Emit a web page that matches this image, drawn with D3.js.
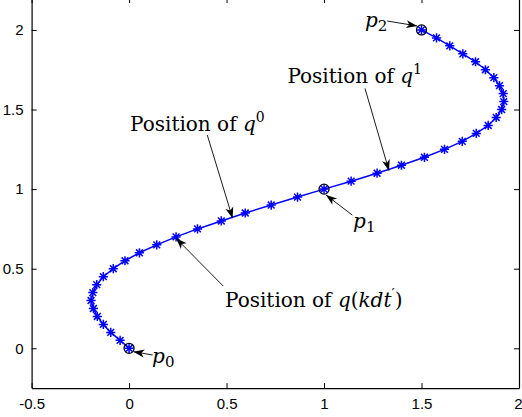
<!DOCTYPE html>
<html>
<head>
<meta charset="utf-8">
<script src="https://cdn.jsdelivr.net/npm/d3@7"></script>
<style>
  body { margin: 0; background: #fff; }
</style>
</head>
<body>
<div id="chart"></div>
<script>
// trajectory samples q(k dt')
const pathX = [0, -0.046, -0.094, -0.132, -0.163, -0.183, -0.195, -0.186, -0.166, -0.132,
  -0.081, -0.021, 0.053, 0.142, 0.241, 0.351, 0.473, 0.596, 0.729, 0.864,
  1.0, 1.139, 1.272, 1.397, 1.515, 1.618, 1.709, 1.781, 1.842, 1.883,
  1.911, 1.922, 1.919, 1.900, 1.871, 1.828, 1.777, 1.712, 1.645, 1.577, 1.5];
const pathY = [0, 0.05, 0.10, 0.15, 0.20, 0.25, 0.30, 0.35, 0.40, 0.45,
  0.50, 0.55, 0.60, 0.65, 0.70, 0.75, 0.80, 0.85, 0.90, 0.95,
  1.00, 1.05, 1.10, 1.15, 1.20, 1.25, 1.30, 1.35, 1.40, 1.45,
  1.50, 1.55, 1.60, 1.65, 1.70, 1.75, 1.80, 1.85, 1.90, 1.95, 2.00];

// waypoints p0, p1, p2
const ctrlX = [0, 1, 1.5];
const ctrlY = [0, 1, 2];

const xTicks = [-0.5, 0, 0.5, 1, 1.5, 2];
const xTickLabels = ["-0.5", "0", "0.5", "1", "1.5", "2"];
const yTicks = [0, 0.5, 1, 1.5, 2];
const yTickLabels = ["0", "0.5", "1", "1.5", "2"];

// annotation texts (in data units) and arrows
const labelText = ["q0", "q1", "qk", "p2", "p1", "p0"];
const labelX = [0.005, 0.812, 0.492, 1.210, 1.149, 0.118];
const labelY = [1.365, 1.665, 0.259, 2.02, 0.754, -0.09];
const arrowFrom = [[0.401, 1.340], [1.210, 1.633], [0.483, 0.391], [1.324, 2.056], [1.145, 0.837], [0.121, -0.042]];
const arrowTo = [[0.531, 0.817], [1.333, 1.116], [0.241, 0.691], [1.478, 2.025], [1.010, 0.963], [0.022, -0.021]];

const W = 522, H = 417;
const serif = "DejaVu Serif";
const sans = "Liberation Sans";

const svg = d3.select("#chart").append("svg")
  .attr("width", W).attr("height", H);

const x = d3.scaleLinear().domain([-0.5, 2]).range([31.6, 519]);
const y = d3.scaleLinear().domain([-0.25, 2.2]).range([388.1, -1.9]);

// arrow head
svg.append("defs").append("marker")
  .attr("id", "head")
  .attr("markerUnits", "userSpaceOnUse")
  .attr("viewBox", "-12 -6 14 12")
  .attr("markerWidth", 14).attr("markerHeight", 12)
  .attr("refX", 0).attr("refY", 0)
  .attr("orient", "auto")
  .append("path")
    .attr("d", "M0,0 L-11,-4 L-8,0 L-11,4 Z")
    .attr("fill", "#000");

// axes box
const fmtX = (d, i) => xTickLabels[i];
const fmtY = (d, i) => yTickLabels[i];
const xAxis = svg.append("g").attr("transform", `translate(0,${y(-0.25)})`)
  .call(d3.axisBottom(x).tickValues(xTicks).tickFormat(fmtX).tickSizeInner(-5).tickSizeOuter(0).tickPadding(10));
svg.append("g").attr("transform", `translate(0,${y(2.2)})`)
  .call(d3.axisTop(x).tickValues(xTicks).tickFormat("").tickSizeInner(-5).tickSizeOuter(0));
svg.append("g").attr("transform", `translate(${x(-0.5)},0)`)
  .call(d3.axisLeft(y).tickValues(yTicks).tickFormat(fmtY).tickSizeInner(-5).tickSizeOuter(0).tickPadding(8));
svg.append("g").attr("transform", `translate(${x(2)},0)`)
  .call(d3.axisRight(y).tickValues(yTicks).tickFormat("").tickSizeInner(-5).tickSizeOuter(0));
svg.selectAll(".domain").attr("stroke", "#000").attr("stroke-width", 1.2);
svg.selectAll(".tick line").attr("stroke", "#000");
svg.selectAll(".tick text").attr("fill", "#000")
  .attr("font-family", sans).attr("font-size", 15);
// last x label sits at the clipped right edge, pull it inside
xAxis.selectAll(".tick text").filter((d, i) => i === xTicks.length - 1)
  .attr("text-anchor", "end").attr("x", 3);

// trajectory line
const pts = pathX.map((v, i) => [v, pathY[i]]);
svg.append("path")
  .datum(pts)
  .attr("fill", "none")
  .attr("stroke", "#0000ff")
  .attr("stroke-width", 1.5)
  .attr("d", d3.line().x(d => x(d[0])).y(d => y(d[1])));

// circles at waypoints
svg.selectAll("circle.ctrl")
  .data(ctrlX)
  .join("circle")
    .attr("class", "ctrl")
    .attr("cx", d => x(d))
    .attr("cy", (d, i) => y(ctrlY[i]))
    .attr("r", 5)
    .attr("fill", "none")
    .attr("stroke", "#000")
    .attr("stroke-width", 1.3);

// asterisk markers
const s = 4.6, sd = 3.4;
const starPath = `M${-s},0L${s},0M0,${-s}L0,${s}M${-sd},${-sd}L${sd},${sd}M${-sd},${sd}L${sd},${-sd}`;
svg.selectAll("path.star")
  .data(pts)
  .join("path")
    .attr("class", "star")
    .attr("transform", d => `translate(${x(d[0])},${y(d[1])})`)
    .attr("d", starPath)
    .attr("stroke", "#0000ff")
    .attr("stroke-width", 1.5)
    .attr("fill", "none");

// arrows
svg.selectAll("line.arrow")
  .data(arrowFrom)
  .join("line")
    .attr("class", "arrow")
    .attr("x1", d => x(d[0])).attr("y1", d => y(d[1]))
    .attr("x2", (d, i) => x(arrowTo[i][0])).attr("y2", (d, i) => y(arrowTo[i][1]))
    .attr("stroke", "#000")
    .attr("stroke-width", 0.9)
    .attr("marker-end", "url(#head)");

// labels
function addLabel(key, i) {
  const t = svg.append("text")
    .attr("font-family", serif).attr("font-size", 20).attr("fill", "#000")
    .attr("x", x(labelX[i])).attr("y", y(labelY[i]));
  if (key === "q0" || key === "q1") {
    t.append("tspan").text("Position of ");
    t.append("tspan").attr("font-style", "italic").text("q");
    t.append("tspan").attr("font-size", 14).attr("dy", -9).text(key[1]);
  } else if (key === "qk") {
    t.append("tspan").text("Position of ");
    t.append("tspan").attr("font-style", "italic").text("q");
    t.append("tspan").text("(");
    t.append("tspan").attr("font-style", "italic").text("kdt");
    t.append("tspan").attr("font-size", 14).attr("dy", -8).text("\u2032");
    t.append("tspan").attr("dy", 8).text(")");
  } else {
    t.append("tspan").attr("font-style", "italic").text("p");
    t.append("tspan").attr("font-size", 15).attr("dy", 4).text(key[1]);
  }
}
labelText.forEach(addLabel);
</script>
</body>
</html>
